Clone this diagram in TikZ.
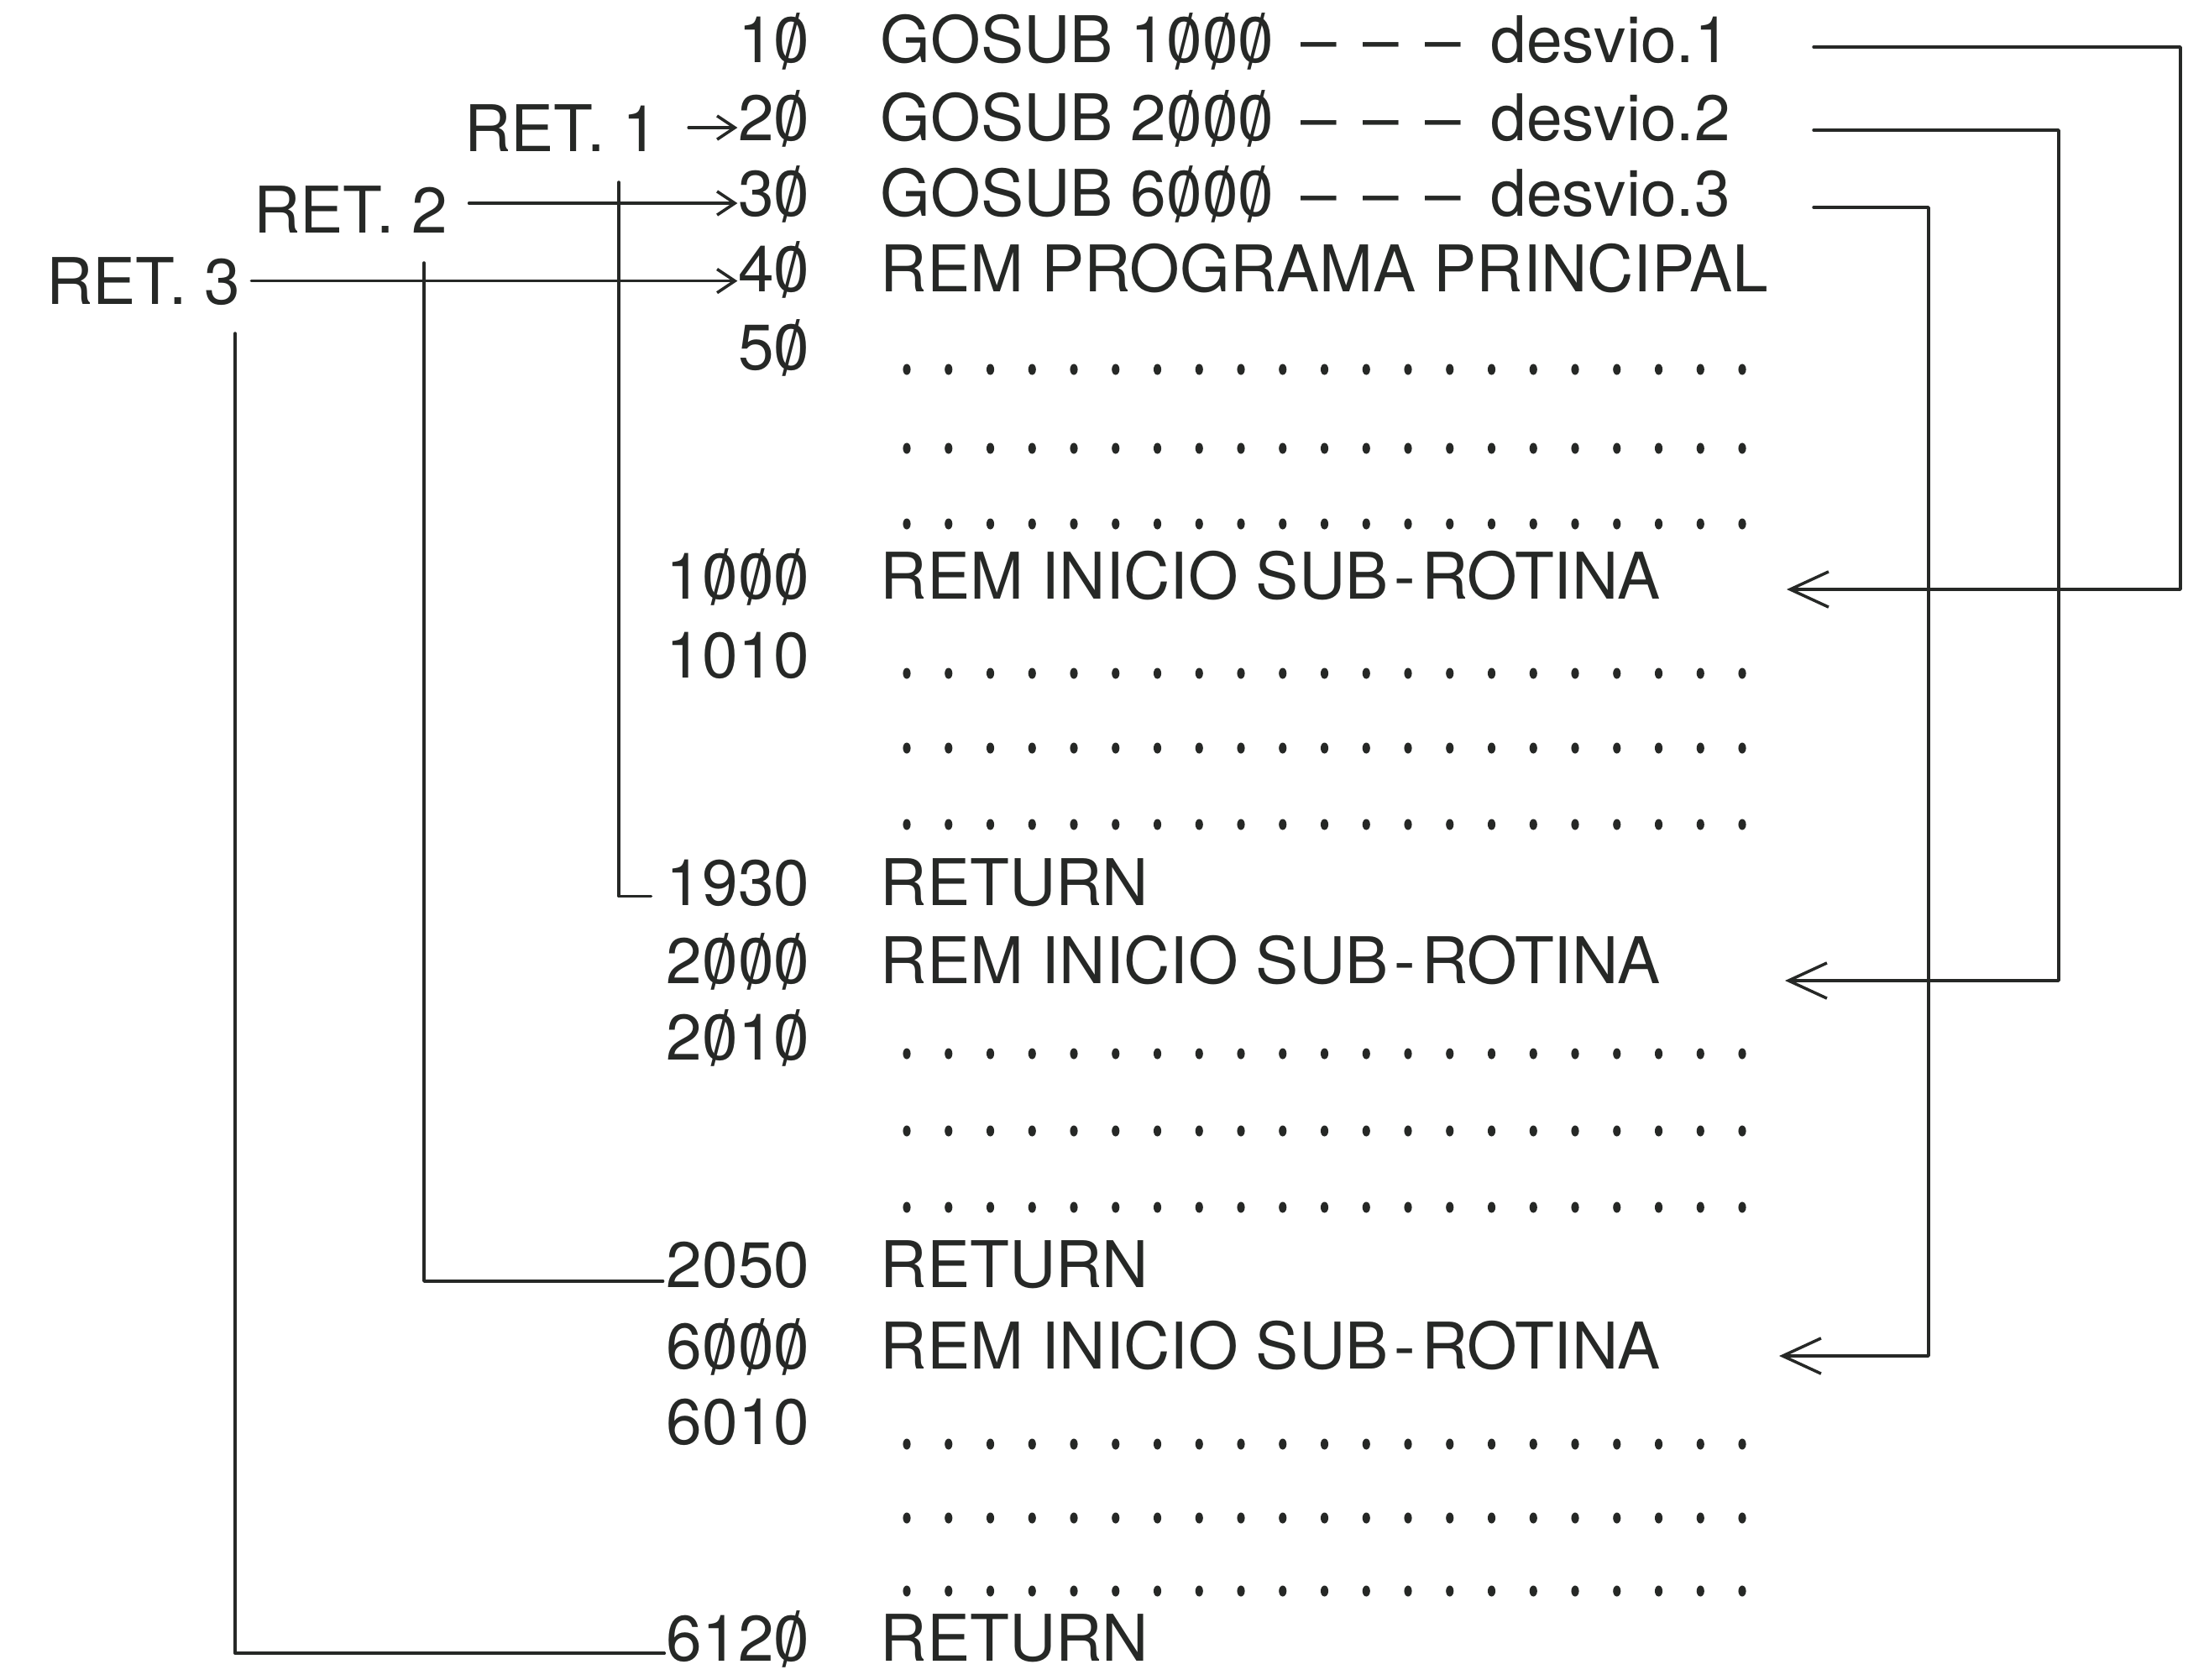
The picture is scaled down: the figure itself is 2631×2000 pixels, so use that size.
\documentclass[tikz,border=0pt]{standalone}
\usepackage{fontspec}
\usepackage{graphicx}
\setmainfont{TeX Gyre Heros}
\usetikzlibrary{arrows.meta}
\definecolor{tinta}{RGB}{38,40,38}
% zero cortado
\newcommand\zs{\ooalign{0\cr\hidewidth\raisebox{-0.08em}{\scalebox{0.95}[1.18]{/}}\hidewidth\cr}}
\newcommand\gosub[2]{GOSUB #1\hspace{9pt}--\hspace{9pt}--\hspace{9pt}--\hspace{10pt}desvio.#2}

\begin{document}
\begin{tikzpicture}[x=0.01cm, y=-0.01cm, line join=round, line cap=round, color=tinta,
  font=\fontsize{21.8pt}{26pt}\selectfont,
  num/.style={anchor=base east, inner sep=0pt},
  cmd/.style={anchor=base west, inner sep=0pt},
  ret/.style={anchor=base east, inner sep=0pt},
  linha/.style={line width=1pt},
  desvio/.style={line width=1pt, -{Straight Barb[length=13pt,width=12pt]}},
  volta/.style={line width=1pt, -{Straight Barb[length=6pt,width=8pt]}}]
\useasboundingbox (0,0) rectangle (2631,2000);
\def\xn{965} \def\xc{1048}
% numeros de linha
\foreach \nome/\lin/\yy in {10/1\zs/75, 20/2\zs/167, 30/3\zs/257, 40/4\zs/347, 50/5\zs/440,
    1000/1\zs\zs\zs/713, 1010/1010/807, 1930/1930/1078, 2000/2\zs\zs\zs/1171,
    2010/2\zs1\zs/1262, 2050/2050/1533, 6000/6\zs\zs\zs/1630, 6010/6010/1720, 6120/612\zs/1978}
  \node[num] (l\nome) at (\xn,\yy) {\lin};
% comandos
\foreach \nome/\txt/\yy in {10/{\gosub{1\zs\zs\zs}{1}}/75, 20/{\gosub{2\zs\zs\zs}{2}}/167,
    30/{\gosub{6\zs\zs\zs}{3}}/257, 40/{REM PROGRAMA PRINCIPAL}/347,
    1000/{REM INICIO SUB\kern2pt-\kern2pt ROTINA}/713, 1930/RETURN/1078,
    2000/{REM INICIO SUB\kern2pt-\kern2pt ROTINA}/1171, 2050/RETURN/1533,
    6000/{REM INICIO SUB\kern2pt-\kern2pt ROTINA}/1630, 6120/RETURN/1978}
  \node[cmd] (c\nome) at (\xc,\yy) {\txt};
% linhas pontilhadas
\foreach \yy in {440,534,624,802,891,982,1255,1347,1438,1720,1808,1895}
  \foreach \i in {0,...,20}
    \fill (1080+\i*49.75,\yy) ellipse [x radius=1.3pt, y radius=1.85pt];
% retornos
\node[ret] (r1) at (785,180) {RET. 1};
\node[ret] (r2) at (534,277) {RET. 2};
\node[ret] (r3) at (287,362) {RET. 3};
\draw[volta] ([xshift=10pt]r1.east) -- (r1.east -| l20.west);
\draw[volta] ([xshift=7pt,yshift=2pt]r2.east) -- ([yshift=2pt]r2.east -| l30.west);
\draw[volta] ([xshift=3.5pt]r3.east) -- (r3.east -| l40.west);
\coordinate (v1) at (737,217);
\coordinate (v2) at (505,313);
\coordinate (v3) at (280,397);
\draw[linha] (v1) |- ([xshift=-5pt,yshift=3pt]l1930.base west);
\draw[linha] (v2) |- ([xshift=-1pt,yshift=2pt]l2050.base west);
\draw[linha] (v3) |- ([xshift=-0.5pt,yshift=2.5pt]l6120.base west);
% desvios
\coordinate (g1) at (2160,56);
\coordinate (g2) at (2160,155);
\coordinate (g3) at (2160,247);
\coordinate (e1) at (2128,702);
\coordinate (e2) at (2126,1168);
\coordinate (e3) at (2119,1615);
\draw[desvio] (g1) -- ++(437,0) |- (e1);
\draw[desvio] (g2) -- ++(292,0) |- (e2);
\draw[desvio] (g3) -- ++(137,0) |- (e3);
\end{tikzpicture}
\end{document}
